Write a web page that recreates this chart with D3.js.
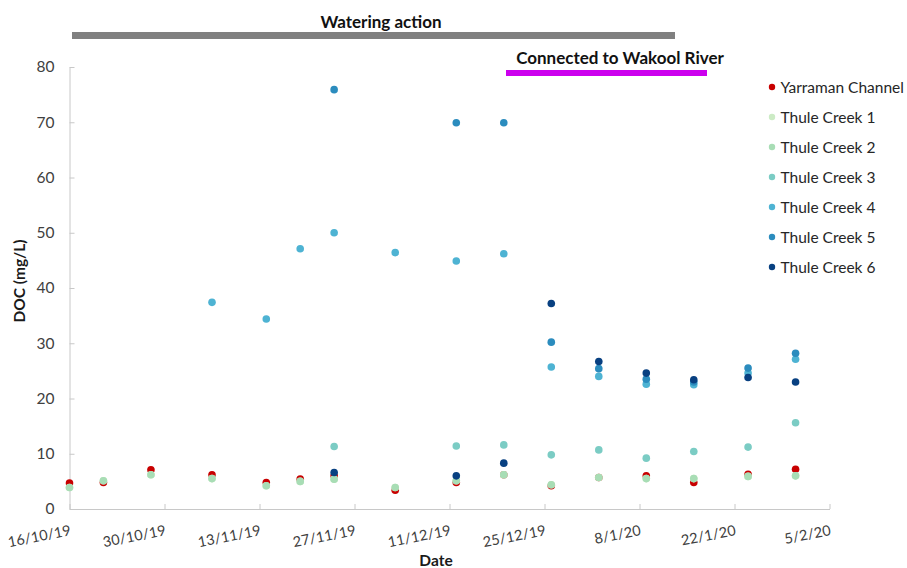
<!DOCTYPE html>
<html>
<head>
<meta charset="utf-8">
<script src="https://cdn.jsdelivr.net/npm/d3@7"></script>
<style>
  html, body { margin: 0; padding: 0; background: #fff; }
  svg { display: block; font-family: Lato, "Open Sans", sans-serif; }
</style>
</head>
<body>
<div id="chart"></div>
<script>
/* ── Data ─────────────────────────────────────────────────────────── */
const SAMPLE_DATES = [
  '2019-10-16', '2019-10-21', '2019-10-28', '2019-11-06', '2019-11-14', '2019-11-19',
  '2019-11-24', '2019-12-03', '2019-12-12', '2019-12-19', '2019-12-26', '2020-01-02',
  '2020-01-09', '2020-01-16', '2020-01-24', '2020-01-31'
];
const YARRAMAN = [4.7, 4.8, 7.1, 6.2, 4.8, 5.4, 6.0, 3.4, 4.8, 6.2, 4.2, 5.7, 6.0, 4.8, 6.3, 7.2];
const THULE_1  = [3.9, 5.1, 6.2, 5.5, 4.2, 5.0, 5.4, 3.9, 5.1, 6.2, 4.4, 5.7, 5.5, 5.5, 5.9, 6.0];
const THULE_2  = [3.9, 5.1, 6.2, 5.5, 4.2, 5.0, 5.4, 3.9, 5.1, 6.2, 4.4, 5.7, 5.5, 5.5, 5.9, 6.0];
const THULE_3  = [null, null, null, null, null, null, 11.3, null, 11.4, 11.6, 9.8, 10.7, 9.2, 10.4, 11.2, 15.6];
const THULE_4  = [null, null, null, 37.4, 34.4, 47.1, 50.0, 46.4, 44.9, 46.2, 25.7, 24.0, 22.6, 22.5, 24.6, 27.1];
const THULE_5  = [null, null, null, null, null, null, 75.9, null, 69.9, 69.9, 30.2, 25.4, 23.5, 23.0, 25.5, 28.2];
const THULE_6  = [null, null, null, null, null, null, 6.6, null, 6.0, 8.3, 37.2, 26.7, 24.6, 23.4, 23.8, 23.0];

const SERIES_NAMES  = ['Yarraman Channel', 'Thule Creek 1', 'Thule Creek 2', 'Thule Creek 3',
                       'Thule Creek 4', 'Thule Creek 5', 'Thule Creek 6'];
const SERIES_VALUES = [YARRAMAN, THULE_1, THULE_2, THULE_3, THULE_4, THULE_5, THULE_6];
const SERIES_COLORS = ['#c80000', '#ccebc5', '#a8ddb5', '#7bccc4', '#4eb3d3', '#2b8cbe', '#084081'];

const X_TICKS = ['2019-10-16', '2019-10-30', '2019-11-13', '2019-11-27', '2019-12-11',
                 '2019-12-25', '2020-01-08', '2020-01-22', '2020-02-05'];
const Y_TICKS = [0, 10, 20, 30, 40, 50, 60, 70, 80];

/* ── Layout ───────────────────────────────────────────────────────── */
const W = 907, H = 568;
const PLOT = { left: 69.5, right: 829.5, top: 67, bottom: 509 };
const AXIS_CLR = '#c8c8c8';
const TEXT_CLR = '#404040';

const parse = d3.timeParse('%Y-%m-%d');
const fmt   = d3.timeFormat('%-d/%-m/%y');

const svg = d3.select('#chart').append('svg')
  .attr('width', W).attr('height', H)
  .attr('viewBox', `0 0 ${W} ${H}`);

const x = d3.scaleTime()
  .domain([parse(X_TICKS[0]), parse(X_TICKS[X_TICKS.length - 1])])
  .range([PLOT.left, PLOT.right]);

const y = d3.scaleLinear()
  .domain([0, 80])
  .range([PLOT.bottom, PLOT.top]);

/* ── Y axis ───────────────────────────────────────────────────────── */
const yAxis = svg.append('g')
  .attr('transform', `translate(${PLOT.left},0)`)
  .call(d3.axisLeft(y).tickValues(Y_TICKS).tickSize(-5).tickSizeOuter(0).tickPadding(15));
yAxis.select('.domain').attr('stroke', AXIS_CLR);
yAxis.selectAll('.tick line').attr('stroke', AXIS_CLR);
yAxis.selectAll('.tick text')
  .attr('fill', TEXT_CLR).attr('font-size', '15.5px')
  .attr('font-family', 'Lato, sans-serif');

/* ── X axis ───────────────────────────────────────────────────────── */
const xAxis = svg.append('g')
  .attr('transform', `translate(0,${PLOT.bottom})`)
  .call(d3.axisBottom(x).tickValues(X_TICKS.map(parse)).tickSize(-5).tickSizeOuter(0).tickFormat(''));
xAxis.select('.domain').attr('stroke', AXIS_CLR);
xAxis.selectAll('.tick line').attr('stroke', AXIS_CLR);

svg.append('g').selectAll('text')
  .data(X_TICKS)
  .join('text')
  .attr('transform', d => `translate(${x(parse(d)) + 2},${PLOT.bottom + 26}) rotate(-11)`)
  .attr('text-anchor', 'end')
  .attr('fill', TEXT_CLR)
  .attr('font-size', '14.5px')
  .text(d => fmt(parse(d)));

/* ── Axis titles ──────────────────────────────────────────────────── */
svg.append('text')
  .attr('x', 436).attr('y', 566)
  .attr('text-anchor', 'middle')
  .attr('font-weight', 700).attr('font-size', '15.5px')
  .attr('fill', '#1a1a1a')
  .text('Date');

svg.append('text')
  .attr('transform', 'translate(25,281) rotate(-90)')
  .attr('text-anchor', 'middle')
  .attr('font-weight', 700).attr('font-size', '15.5px')
  .attr('fill', '#1a1a1a')
  .text('DOC (mg/L)');

/* ── Period bars ──────────────────────────────────────────────────── */
svg.append('text')
  .attr('x', 381).attr('y', 28)
  .attr('text-anchor', 'middle')
  .attr('font-weight', 700).attr('font-size', '17px')
  .attr('fill', '#111')
  .text('Watering action');
svg.append('rect')
  .attr('x', 72).attr('y', 32).attr('width', 603).attr('height', 7)
  .attr('fill', '#808080');

svg.append('text')
  .attr('x', 620).attr('y', 64)
  .attr('text-anchor', 'middle')
  .attr('font-weight', 700).attr('font-size', '17px')
  .attr('fill', '#111')
  .text('Connected to Wakool River');
svg.append('rect')
  .attr('x', 506).attr('y', 70).attr('width', 201).attr('height', 6)
  .attr('fill', '#cc00ee');

/* ── Points ───────────────────────────────────────────────────────── */
const pointsG = svg.append('g');
SERIES_VALUES.forEach((vals, i) => {
  const pts = vals
    .map((v, j) => ({ date: parse(SAMPLE_DATES[j]), v }))
    .filter(d => d.v != null);
  pointsG.append('g').selectAll('circle')
    .data(pts)
    .join('circle')
    .attr('cx', d => x(d.date))
    .attr('cy', d => y(d.v))
    .attr('r', 3.8)
    .attr('fill', SERIES_COLORS[i]);
});

/* ── Legend ───────────────────────────────────────────────────────── */
const legend = svg.append('g').attr('transform', 'translate(772,87)');
SERIES_NAMES.forEach((name, i) => {
  const row = legend.append('g').attr('transform', `translate(0,${i * 30})`);
  row.append('circle').attr('r', 3.2).attr('fill', SERIES_COLORS[i]);
  row.append('text')
    .attr('x', 8.5).attr('y', 5.5)
    .attr('font-size', '15.5px')
    .attr('fill', '#262626')
    .text(name);
});
</script>
</body>
</html>
